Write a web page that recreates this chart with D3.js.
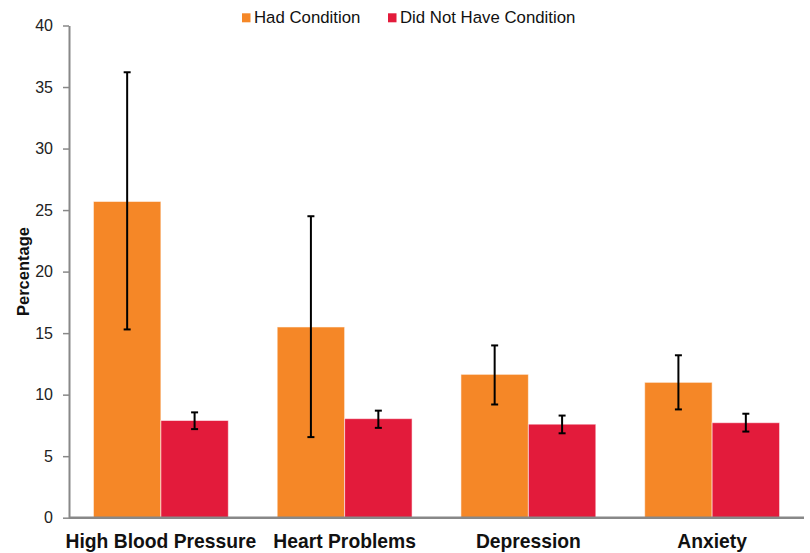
<!DOCTYPE html>
<html><head><meta charset="utf-8">
<script src="https://cdn.jsdelivr.net/npm/d3@7"></script>
<style>body{margin:0;background:#fff}svg{display:block;font-family:"Liberation Sans",Arial,sans-serif}</style>
</head><body><svg id="c" width="810" height="553"></svg>
<script>
const categories = ["High Blood Pressure","Heart Problems","Depression","Anxiety"];
const seriesNames = ["Had Condition","Did Not Have Condition"];
const hadValues = [25.7, 15.5, 11.65, 11.0];
const hadLow = [15.3, 6.55, 9.2, 8.8];
const hadHigh = [36.2, 24.5, 14.0, 13.2];
const notValues = [7.9, 8.05, 7.6, 7.72];
const notLow = [7.2, 7.3, 6.86, 7.0];
const notHigh = [8.56, 8.7, 8.3, 8.45];
const yTicks = [0,5,10,15,20,25,30,35,40];
const colors = ["#F58727","#E31B3B"];

const svg = d3.select("#c");
const x0 = d3.scaleBand().domain(categories).range([69,804]).paddingInner(0.266).paddingOuter(0.133);
const x1 = d3.scaleBand().domain(seriesNames).range([0,x0.bandwidth()]);
const y = d3.scaleLinear().domain([0,40]).range([517.7,25.5]);

const rows = categories.map((c,i)=>({cat:c, vals:[
  {s:seriesNames[0], v:hadValues[i], lo:hadLow[i], hi:hadHigh[i]},
  {s:seriesNames[1], v:notValues[i], lo:notLow[i], hi:notHigh[i]}]}));

const g = svg.selectAll("g.grp").data(rows).join("g").attr("class","grp")
  .attr("transform", d=>`translate(${x0(d.cat)},0)`);
g.selectAll("rect").data(d=>d.vals).join("rect")
  .attr("x", d=>x1(d.s)).attr("width", x1.bandwidth())
  .attr("y", d=>y(d.v)).attr("height", d=>y(0)-y(d.v))
  .attr("fill", (d,i)=>colors[i])
  .attr("stroke","rgba(255,255,255,0.55)").attr("stroke-width",1);

const eb = g.selectAll("g.eb").data(d=>d.vals).join("g").attr("class","eb")
  .attr("transform", d=>`translate(${x1(d.s)+x1.bandwidth()/2},0)`);
eb.append("line").attr("y1",d=>y(d.lo)).attr("y2",d=>y(d.hi)).attr("stroke","#000").attr("stroke-width",2);
eb.append("line").attr("x1",-3.5).attr("x2",3.5).attr("y1",d=>y(d.hi)).attr("y2",d=>y(d.hi)).attr("stroke","#000").attr("stroke-width",2);
eb.append("line").attr("x1",-3.5).attr("x2",3.5).attr("y1",d=>y(d.lo)).attr("y2",d=>y(d.lo)).attr("stroke","#000").attr("stroke-width",2);

// y axis
const ya = svg.append("g").attr("transform","translate(69,0)")
  .call(d3.axisLeft(y).tickValues(yTicks).tickSize(6).tickSizeOuter(0).tickPadding(10));
ya.select(".domain").attr("stroke","#888").attr("stroke-width",2);
ya.selectAll(".tick line").attr("stroke","#888").attr("stroke-width",1.5);
ya.selectAll(".tick text").attr("font-size",16).attr("fill","#222").attr("font-family","Liberation Sans, Arial, sans-serif");

// x axis
const xa = svg.append("g").attr("transform","translate(0,517.7)")
  .call(d3.axisBottom(x0).tickSize(0).tickPadding(17));
xa.select(".domain").attr("stroke","#888").attr("stroke-width",2.5).attr("d","M69,0H804");
xa.selectAll(".tick text").attr("font-size",19.3).attr("font-weight","bold").attr("fill","#111").attr("font-family","Liberation Sans, Arial, sans-serif");

// y label
svg.append("text").attr("transform","translate(29,271.5) rotate(-90)").attr("text-anchor","middle")
  .attr("font-size",16.5).attr("font-weight","bold").attr("fill","#111").text("Percentage");

// legend
const legX = [242, 388];
const lg = svg.selectAll("g.leg").data(seriesNames).join("g").attr("class","leg")
  .attr("transform",(d,i)=>`translate(${legX[i]},13.3)`);
lg.append("rect").attr("width",8.5).attr("height",9).attr("fill",(d,i)=>colors[i]);
lg.append("text").attr("x",12).attr("y",9.5).attr("font-size",16.8).attr("fill","#111").text(d=>d);
</script></body></html>
